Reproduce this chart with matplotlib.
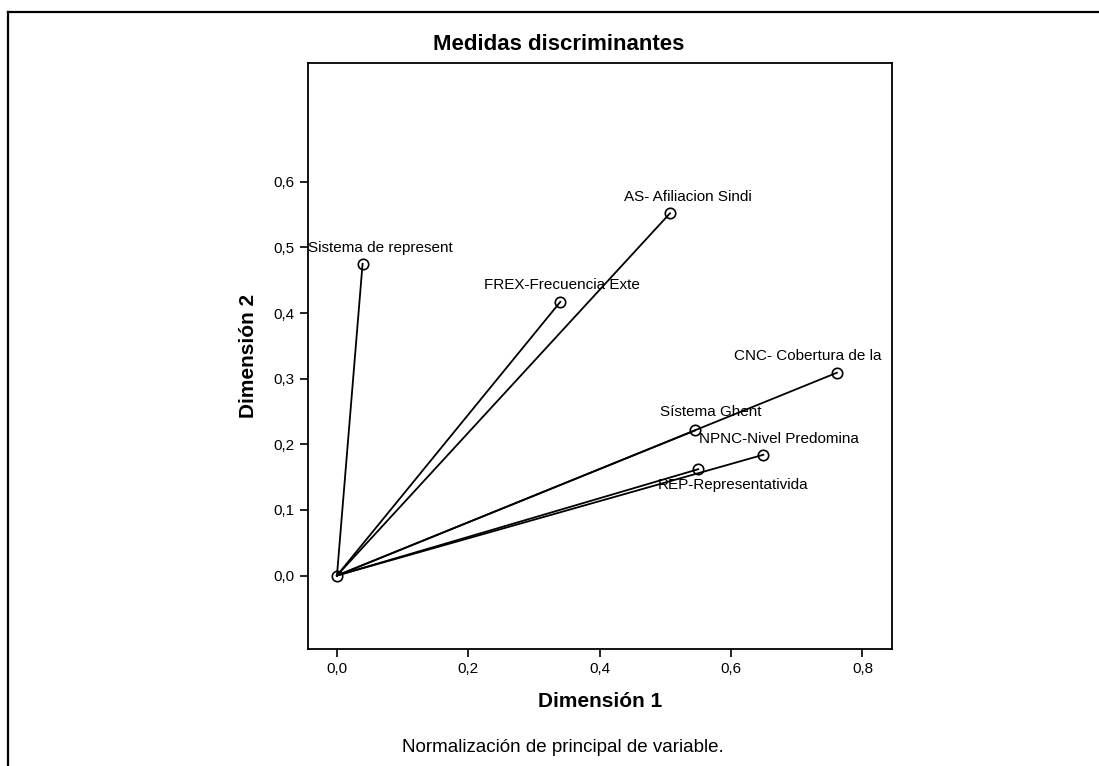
import matplotlib
matplotlib.use('Agg')
import matplotlib.pyplot as plt
from matplotlib.lines import Line2D
from matplotlib.ticker import FuncFormatter

plt.rcParams['font.family'] = ['Liberation Sans', 'DejaVu Sans']

# Medidas discriminantes (dimensión 1, dimensión 2)
variables = ['Sistema de represent', 'AS- Afiliacion Sindi', 'FREX-Frecuencia Exte',
             'CNC- Cobertura de la', 'Sístema Ghent', 'NPNC-Nivel Predomina',
             'REP-Representativida']
dim1 = [0.039, 0.507, 0.340, 0.761, 0.545, 0.649, 0.550]
dim2 = [0.475, 0.552, 0.417, 0.309, 0.221, 0.184, 0.162]

# desplazamiento de las etiquetas (pixeles)
label_offsets = [(18, 16), (18, 16), (2, 17), (-29, 17), (16, 18), (16, 16), (35, -16)]

x_ticks = [0.0, 0.2, 0.4, 0.6, 0.8]
y_ticks = [0.0, 0.1, 0.2, 0.3, 0.4, 0.5, 0.6]

fig = plt.figure(figsize=(10.99, 7.66), dpi=100)
ax = fig.add_axes([0.2803, 0.1527, 0.5314, 0.7651])

for x, y, name, off in zip(dim1, dim2, variables, label_offsets):
    ax.plot([0, x], [0, y], color='black', lw=1.3, zorder=2)
    ax.plot(x, y, 'o', ms=7.5, mfc='none', mec='black', mew=1.2, zorder=3)
    ax.annotate(name, (x, y), xytext=off, textcoords='offset pixels',
                ha='center', va='center', fontsize=11)
ax.plot(0, 0, 'o', ms=7.5, mfc='none', mec='black', mew=1.2, zorder=3)

ax.set_xlim(-0.044, 0.845)
ax.set_ylim(-0.112, 0.781)
ax.set_xticks(x_ticks)
ax.set_yticks(y_ticks)
fmt = FuncFormatter(lambda v, p: ('%.1f' % v).replace('.', ','))
ax.xaxis.set_major_formatter(fmt)
ax.yaxis.set_major_formatter(fmt)
ax.tick_params(direction='out', length=6, width=1.2, labelsize=11, color='black')
for s in ax.spines.values():
    s.set_linewidth(1.3)

ax.set_xlabel('Dimensión 1', fontsize=15, fontweight='bold')
ax.xaxis.set_label_coords(0.5, -0.073)
fig.text(249 / 1099, 1 - 356 / 766, 'Dimensión 2', rotation=90, ha='center', va='center',
         fontsize=15, fontweight='bold')

fig.text(559 / 1099, 1 - 45 / 766, 'Medidas discriminantes', ha='center', va='center',
         fontsize=16, fontweight='bold')
fig.text(563 / 1099, 1 - 748 / 766, 'Normalización de principal de variable.',
         ha='center', va='center', fontsize=13.5)

# marco exterior
top = 1 - 12 / 766
fig.add_artist(Line2D([8 / 1099, 1], [top, top], color='black', lw=1.6))
fig.add_artist(Line2D([8 / 1099, 8 / 1099], [0, top], color='black', lw=1.6))

fig.savefig('out.png', dpi=100)
